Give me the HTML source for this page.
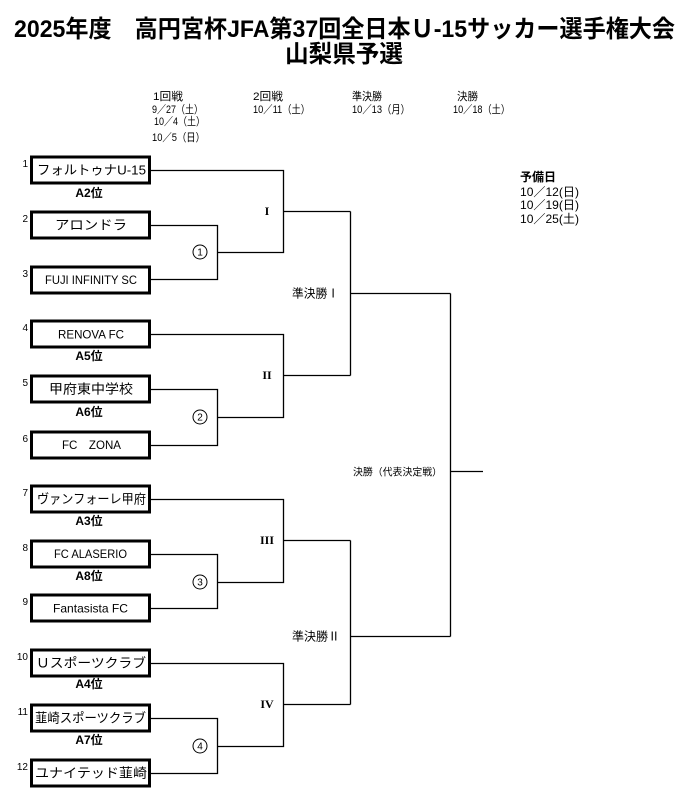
<!DOCTYPE html>
<html><head><meta charset="utf-8"><style>
html,body{margin:0;padding:0;background:#fff;}
svg{display:block;}
text{font-family:"Liberation Sans","Noto Sans CJK JP",sans-serif;fill:#000;}
.t{font-weight:700;font-size:24px;}
.h{font-size:11px;}
.n{font-size:10px;}
.nm{font-size:13px;}
.nl{font-size:12px;}
.rk{font-size:12px;font-weight:700;}
.ro{font-family:"Liberation Serif","Noto Serif CJK SC",serif;font-weight:700;font-size:12px;}
</style></head><body>
<svg width="688" height="801" viewBox="0 0 688 801" xmlns="http://www.w3.org/2000/svg">
<!-- Title -->
<text class="t" x="344.5" y="37" text-anchor="middle" textLength="661" lengthAdjust="spacingAndGlyphs">2025年度　高円宮杯JFA第37回全日本Ｕ-15サッカー選手権大会</text>
<text class="t" x="344" y="62" text-anchor="middle" textLength="118" lengthAdjust="spacingAndGlyphs">山梨県予選</text>

<!-- Header dates -->
<text class="h" x="153" y="100" textLength="30" lengthAdjust="spacingAndGlyphs">1回戦</text>
<text class="h" x="152" y="113" textLength="51" lengthAdjust="spacingAndGlyphs">9／27（土）</text>
<text class="h" x="154" y="125" textLength="51" lengthAdjust="spacingAndGlyphs">10／4（土）</text>
<text class="h" x="152" y="141" textLength="53" lengthAdjust="spacingAndGlyphs">10／5（日）</text>
<text class="h" x="253" y="100" textLength="30" lengthAdjust="spacingAndGlyphs">2回戦</text>
<text class="h" x="253" y="113" textLength="57" lengthAdjust="spacingAndGlyphs">10／11（土）</text>
<text class="h" x="352" y="100" textLength="30" lengthAdjust="spacingAndGlyphs">準決勝</text>
<text class="h" x="352" y="113" textLength="58" lengthAdjust="spacingAndGlyphs">10／13（月）</text>
<text class="h" x="457" y="100" textLength="21" lengthAdjust="spacingAndGlyphs">決勝</text>
<text class="h" x="453" y="113" textLength="57" lengthAdjust="spacingAndGlyphs">10／18（土）</text>

<!-- Reserve days -->
<text x="520" y="181" style="font-size:12px;font-weight:700" textLength="36" lengthAdjust="spacingAndGlyphs">予備日</text>
<text x="520" y="196" style="font-size:12px" textLength="59" lengthAdjust="spacingAndGlyphs">10／12(日)</text>
<text x="520" y="209" style="font-size:12px" textLength="59" lengthAdjust="spacingAndGlyphs">10／19(日)</text>
<text x="520" y="223" style="font-size:12px" textLength="59" lengthAdjust="spacingAndGlyphs">10／25(土)</text>

<!-- Team boxes -->
<g fill="none" stroke="#000" stroke-width="3">
<rect x="31.5" y="157" width="118" height="26"/>
<rect x="31.5" y="212" width="118" height="26"/>
<rect x="31.5" y="267" width="118" height="26"/>
<rect x="31.5" y="321" width="118" height="26"/>
<rect x="31.5" y="376" width="118" height="26"/>
<rect x="31.5" y="432" width="118" height="26"/>
<rect x="31.5" y="486" width="118" height="26"/>
<rect x="31.5" y="541" width="118" height="26"/>
<rect x="31.5" y="595" width="118" height="26"/>
<rect x="31.5" y="650" width="118" height="26"/>
<rect x="31.5" y="705" width="118" height="26"/>
<rect x="31.5" y="760" width="118" height="26"/>
</g>

<!-- Team names -->
<text class="nm" x="91.5" y="174.5" text-anchor="middle" textLength="109" lengthAdjust="spacingAndGlyphs">フォルトゥナU-15</text>
<text class="nm" x="91" y="229.5" text-anchor="middle" textLength="72" lengthAdjust="spacingAndGlyphs">アロンドラ</text>
<text class="nl" x="91" y="284" text-anchor="middle" textLength="92" lengthAdjust="spacingAndGlyphs">FUJI INFINITY SC</text>
<text class="nl" x="91" y="338.5" text-anchor="middle" textLength="66" lengthAdjust="spacingAndGlyphs">RENOVA FC</text>
<text class="nm" x="91" y="393.5" text-anchor="middle" textLength="84" lengthAdjust="spacingAndGlyphs">甲府東中学校</text>
<text class="nl" x="91.5" y="449" text-anchor="middle" textLength="59" lengthAdjust="spacingAndGlyphs">FC　ZONA</text>
<text class="nm" x="91.5" y="503.5" text-anchor="middle" textLength="109" lengthAdjust="spacingAndGlyphs">ヴァンフォーレ甲府</text>
<text class="nl" x="90.5" y="558" text-anchor="middle" textLength="73" lengthAdjust="spacingAndGlyphs">FC ALASERIO</text>
<text class="nl" x="90.5" y="612.5" text-anchor="middle" textLength="75" lengthAdjust="spacingAndGlyphs">Fantasista FC</text>
<text class="nm" x="91" y="667.5" text-anchor="middle" textLength="110" lengthAdjust="spacingAndGlyphs">Ｕスポーツクラブ</text>
<text class="nm" x="90.5" y="722.5" text-anchor="middle" textLength="111" lengthAdjust="spacingAndGlyphs">韮崎スポーツクラブ</text>
<text class="nm" x="91" y="777.5" text-anchor="middle" textLength="112" lengthAdjust="spacingAndGlyphs">ユナイテッド韮崎</text>

<!-- Seed numbers -->
<text class="n" x="28" y="167" text-anchor="end">1</text>
<text class="n" x="28" y="222" text-anchor="end">2</text>
<text class="n" x="28" y="277" text-anchor="end">3</text>
<text class="n" x="28" y="331" text-anchor="end">4</text>
<text class="n" x="28" y="386" text-anchor="end">5</text>
<text class="n" x="28" y="442" text-anchor="end">6</text>
<text class="n" x="28" y="496" text-anchor="end">7</text>
<text class="n" x="28" y="551" text-anchor="end">8</text>
<text class="n" x="28" y="605" text-anchor="end">9</text>
<text class="n" x="28" y="660" text-anchor="end">10</text>
<text class="n" x="28" y="715" text-anchor="end">11</text>
<text class="n" x="28" y="770" text-anchor="end">12</text>

<!-- Rank labels -->
<text class="rk" x="89" y="197" text-anchor="middle">A2位</text>
<text class="rk" x="89" y="360" text-anchor="middle">A5位</text>
<text class="rk" x="89" y="416" text-anchor="middle">A6位</text>
<text class="rk" x="89" y="525" text-anchor="middle">A3位</text>
<text class="rk" x="89" y="580" text-anchor="middle">A8位</text>
<text class="rk" x="89" y="688" text-anchor="middle">A4位</text>
<text class="rk" x="89" y="744" text-anchor="middle">A7位</text>

<!-- Bracket lines -->
<g fill="none" stroke="#000" stroke-width="1.3">
<path d="M151 170.5H283.5V252.5H217.5"/>
<path d="M151 225.5H217.5V279.5H151"/>
<path d="M283.5 211.5H350.5"/>
<path d="M151 334.5H283.5V417.5H217.5"/>
<path d="M151 389.5H217.5V445.5H151"/>
<path d="M283.5 375.5H350.5"/>
<path d="M350.5 211.5V375.5"/>
<path d="M350.5 293.5H450.5"/>
<path d="M151 499.5H283.5V582.5H217.5"/>
<path d="M151 554.5H217.5V608.5H151"/>
<path d="M283.5 540.5H350.5"/>
<path d="M151 663.5H283.5V746.5H217.5"/>
<path d="M151 718.5H217.5V773.5H151"/>
<path d="M283.5 704.5H350.5"/>
<path d="M350.5 540.5V704.5"/>
<path d="M350.5 636.5H450.5"/>
<path d="M450.5 293.5V636.5"/>
<path d="M450.5 471.5H483"/>
</g>

<!-- Circled match numbers -->
<g fill="none" stroke="#000" stroke-width="1">
<circle cx="200" cy="252" r="7"/>
<circle cx="200" cy="417" r="7"/>
<circle cx="200" cy="582" r="7"/>
<circle cx="200" cy="746" r="7"/>
</g>
<text x="200" y="255.5" text-anchor="middle" style="font-size:10px">1</text>
<text x="200" y="420.5" text-anchor="middle" style="font-size:10px">2</text>
<text x="200" y="585.5" text-anchor="middle" style="font-size:10px">3</text>
<text x="200" y="749.5" text-anchor="middle" style="font-size:10px">4</text>

<!-- Roman labels -->
<text class="ro" x="267" y="215" text-anchor="middle">I</text>
<text class="ro" x="267" y="379" text-anchor="middle">II</text>
<text class="ro" x="267" y="544" text-anchor="middle">III</text>
<text class="ro" x="267" y="708" text-anchor="middle">IV</text>

<!-- Semi/final labels -->
<text x="292" y="297.5" style="font-size:12px" textLength="47" lengthAdjust="spacingAndGlyphs">準決勝Ⅰ</text>
<text x="292" y="640.5" style="font-size:12px" textLength="48" lengthAdjust="spacingAndGlyphs">準決勝Ⅱ</text>
<text x="353" y="475.5" style="font-size:10px" textLength="89" lengthAdjust="spacingAndGlyphs">決勝（代表決定戦）</text>
</svg>
</body></html>
